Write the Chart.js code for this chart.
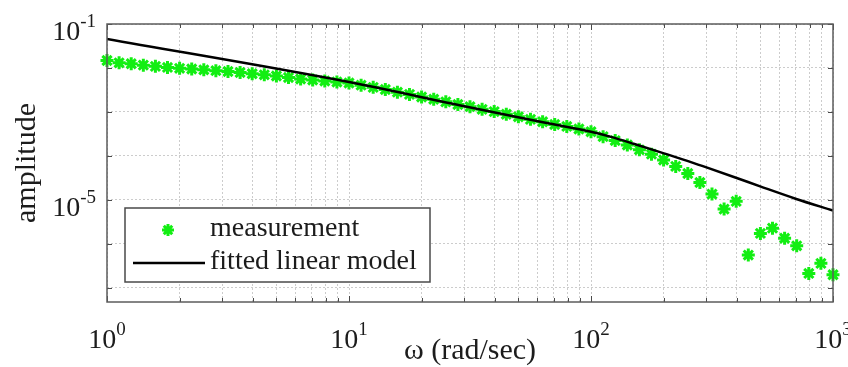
<!DOCTYPE html>
<html>
<head>
<meta charset="utf-8">
<script src="https://cdn.jsdelivr.net/npm/chart.js@4.4.1/dist/chart.umd.min.js"></script>
<style>
  html, body { margin: 0; padding: 0; background: #fff; }
  #wrap { position: relative; width: 848px; height: 367px; }
</style>
</head>
<body>
<div id="wrap"><canvas id="ampChart"></canvas></div>
<script>
// frequencies of the measurement (rad/sec)
const omega = [1, 1.122, 1.259, 1.413, 1.585, 1.778, 1.995, 2.239, 2.512, 2.818,
  3.162, 3.548, 3.981, 4.467, 5.012, 5.623, 6.310, 7.079, 7.943, 8.913,
  10, 11.22, 12.59, 14.13, 15.85, 17.78, 19.95, 22.39, 25.12, 28.18,
  31.62, 35.48, 39.81, 44.67, 50.12, 56.23, 63.10, 70.79, 79.43, 89.13,
  100, 112.2, 125.9, 141.3, 158.5, 177.8, 199.5, 223.9, 251.2, 281.8,
  316.2, 354.8, 398.1, 446.7, 501.2, 562.3, 631.0, 707.9, 794.3, 891.3, 1000];

const measured = [1.48e-2, 1.31e-2, 1.25e-2, 1.16e-2, 1.09e-2, 1.03e-2, 9.84e-3, 9.48e-3, 9.10e-3, 8.69e-3,
  8.32e-3, 7.91e-3, 7.41e-3, 7.00e-3, 6.58e-3, 6.08e-3, 5.62e-3, 5.33e-3, 5.07e-3, 4.81e-3,
  4.56e-3, 4.07e-3, 3.63e-3, 3.24e-3, 2.82e-3, 2.51e-3, 2.19e-3, 1.95e-3, 1.70e-3, 1.48e-3,
  1.32e-3, 1.15e-3, 1.02e-3, 8.9e-4, 7.8e-4, 6.8e-4, 6.0e-4, 5.2e-4, 4.7e-4, 4.1e-4,
  3.55e-4, 2.75e-4, 2.24e-4, 1.78e-4, 1.38e-4, 1.10e-4, 8.1e-5, 5.8e-5, 4.0e-5, 2.5e-5,
  1.36e-5, 6.2e-6, 9.3e-6, 5.6e-7, 1.74e-6, 2.29e-6, 1.35e-6, 9.1e-7, 2.14e-7, 3.63e-7, 2.0e-7];

// fitted linear model curve
const modelOmega = [1, 10, 30, 50, 70, 100, 120, 150, 200, 250, 300, 400, 500, 700, 1000];
const modelAmp = [4.57e-2, 4.79e-3, 1.35e-3, 7.6e-4, 5.25e-4, 3.55e-4, 2.75e-4, 1.9e-4, 1.15e-4,
  7.76e-5, 5.5e-5, 3.16e-5, 2.04e-5, 1.07e-5, 5.75e-6];

// tick labels (powers of ten)
const xTickPowers = [0, 1, 2, 3];
const yTickPowers = [-7, -6, -5, -4, -3, -2, -1];
const yLabelPowers = [-1, -5];

const seriesNames = ['measurement', 'fitted linear model'];
const GREEN = '#12ee12';
const TEXT = '#1c1c1c';
const SERIF = '"Liberation Serif", "Times New Roman", serif';

function isDecade(v) {
  const l = Math.log10(v);
  return Math.abs(l - Math.round(l)) < 1e-9;
}

function drawStar(ctx, x, y, r) {
  ctx.beginPath();
  for (let i = 0; i < 4; i++) {
    const a = i * Math.PI / 4;
    ctx.moveTo(x - r * Math.cos(a), y - r * Math.sin(a));
    ctx.lineTo(x + r * Math.cos(a), y + r * Math.sin(a));
  }
  ctx.stroke();
}

// "10" with a raised exponent
function drawPow(ctx, exp, x, y, align) {
  ctx.font = '28px ' + SERIF;
  const w1 = ctx.measureText('10').width;
  ctx.font = '19px ' + SERIF;
  const w2 = ctx.measureText(exp).width;
  const x0 = align === 'center' ? x - (w1 + w2) / 2 : x - (w1 + w2);
  ctx.textAlign = 'left';
  ctx.textBaseline = 'alphabetic';
  ctx.font = '28px ' + SERIF;
  ctx.fillText('10', x0, y);
  ctx.font = '19px ' + SERIF;
  ctx.fillText(exp, x0 + w1, y - 13);
}

const matlabAxes = {
  id: 'matlabAxes',
  afterDraw(chart) {
    const { ctx, chartArea: ca, scales } = chart;
    const xs = scales.x, ys = scales.y;
    ctx.save();

    // inner tick marks
    ctx.strokeStyle = '#4a4a4a';
    ctx.lineWidth = 1;
    ctx.beginPath();
    xs.ticks.forEach(t => {
      const px = Math.round(xs.getPixelForValue(t.value)) + 0.5;
      const len = isDecade(t.value) ? 6 : 4;
      ctx.moveTo(px, ca.bottom); ctx.lineTo(px, ca.bottom - len);
      ctx.moveTo(px, ca.top); ctx.lineTo(px, ca.top + len);
    });
    ys.ticks.forEach(t => {
      const py = Math.round(ys.getPixelForValue(t.value)) + 0.5;
      ctx.moveTo(ca.left, py); ctx.lineTo(ca.left + 5, py);
      ctx.moveTo(ca.right, py); ctx.lineTo(ca.right - 5, py);
    });
    ctx.stroke();

    // axes box
    ctx.strokeStyle = '#5c5c5c';
    ctx.lineWidth = 1.5;
    ctx.strokeRect(ca.left, ca.top, ca.right - ca.left, ca.bottom - ca.top);

    // tick labels
    ctx.fillStyle = TEXT;
    xTickPowers.forEach(p => {
      drawPow(ctx, String(p), xs.getPixelForValue(Math.pow(10, p)), ca.bottom + 46, 'center');
    });
    yLabelPowers.forEach(p => {
      drawPow(ctx, String(p), ca.left - 11, ys.getPixelForValue(Math.pow(10, p)) + 16, 'right');
    });

    // legend
    const lx = ca.left + 18, ly = ca.top + 184, lw = 305, lh = 74;
    ctx.fillStyle = '#fff';
    ctx.fillRect(lx, ly, lw, lh);
    ctx.strokeStyle = '#4a4a4a';
    ctx.lineWidth = 1.5;
    ctx.strokeRect(lx, ly, lw, lh);

    ctx.strokeStyle = GREEN;
    ctx.lineWidth = 3;
    drawStar(ctx, lx + 43, ly + 22, 6);

    ctx.strokeStyle = '#000';
    ctx.lineWidth = 2.5;
    ctx.beginPath();
    ctx.moveTo(lx + 8, ly + 55);
    ctx.lineTo(lx + 80, ly + 55);
    ctx.stroke();

    ctx.fillStyle = TEXT;
    ctx.font = '28px ' + SERIF;
    ctx.textAlign = 'left';
    ctx.textBaseline = 'middle';
    ctx.fillText(seriesNames[0], lx + 85, ly + 21);
    ctx.fillText(seriesNames[1], lx + 85, ly + 54);

    ctx.restore();
  }
};

const ctx = document.getElementById('ampChart').getContext('2d');

new Chart(ctx, {
  type: 'line',
  data: {
    datasets: [{
      label: seriesNames[1],
      data: modelOmega.map((w, i) => ({ x: w, y: modelAmp[i] })),
      borderColor: '#000',
      borderWidth: 2.5,
      pointRadius: 0,
      cubicInterpolationMode: 'monotone',
      fill: false,
      order: 0
    }, {
      label: seriesNames[0],
      data: omega.map((w, i) => ({ x: w, y: measured[i] })),
      showLine: false,
      pointStyle: 'star',
      pointRadius: 6.5,
      pointBorderWidth: 3,
      pointBorderColor: GREEN,
      pointBackgroundColor: GREEN,
      clip: false,
      order: 1
    }]
  },
  options: {
    responsive: true,
    maintainAspectRatio: false,
    animation: false,
    layout: { padding: { left: 0, right: 15, top: 24, bottom: 0 } },
    plugins: {
      legend: { display: false },
      tooltip: { enabled: false }
    },
    scales: {
      x: {
        type: 'logarithmic',
        min: 1,
        max: 1000,
        afterBuildTicks: scale => {
          const t = [];
          for (let e = 0; e < 3; e++) {
            for (let m = 1; m <= 9; m++) t.push({ value: m * Math.pow(10, e) });
          }
          t.push({ value: 1000 });
          scale.ticks = t;
        },
        afterFit: scale => { scale.height = 65; },
        ticks: { display: false },
        grid: { color: 'rgba(0,0,0,0.2)', lineWidth: 1, drawTicks: false },
        border: { display: false, dash: [2, 2] },
        title: {
          display: true,
          text: 'ω (rad/sec)',
          color: TEXT,
          font: { family: SERIF, size: 30, lineHeight: 1 },
          padding: { top: 0, bottom: 1 }
        }
      },
      y: {
        type: 'logarithmic',
        min: 4.8e-8,
        max: 0.1,
        afterBuildTicks: scale => {
          scale.ticks = yTickPowers.map(p => ({ value: Math.pow(10, p) }));
        },
        afterFit: scale => { scale.width = 107; },
        ticks: { display: false },
        grid: { color: 'rgba(0,0,0,0.2)', lineWidth: 1, drawTicks: false },
        border: { display: false, dash: [2, 2] },
        title: {
          display: true,
          text: 'amplitude',
          color: TEXT,
          font: { family: SERIF, size: 30, lineHeight: 1 },
          padding: { top: 12, bottom: 0 }
        }
      }
    }
  },
  plugins: [matlabAxes]
});
</script>
</body>
</html>
